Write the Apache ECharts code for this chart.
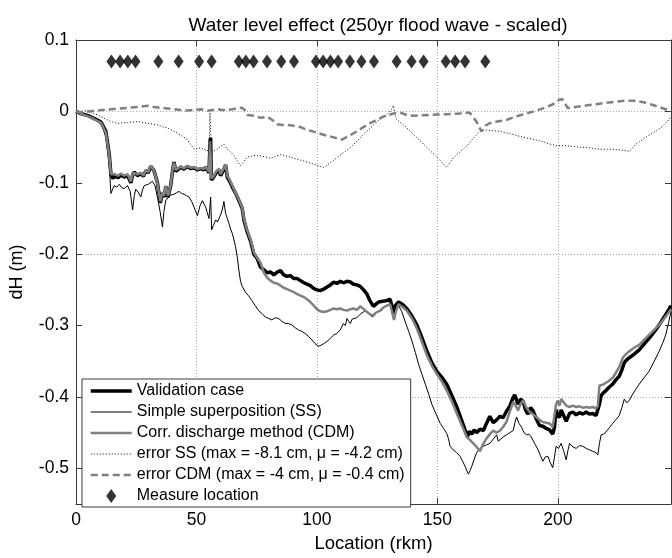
<!DOCTYPE html>
<html>
<head>
<meta charset="utf-8">
<script src="https://cdn.jsdelivr.net/npm/echarts@6.0.0/dist/echarts.min.js"></script>
<style>
  html, body { margin: 0; padding: 0; background: #fff; }
  #chart { width: 672px; height: 558px; }
</style>
</head>
<body>
<div id="chart"></div>
<script>
// River kilometre / water level difference (m) for each run
const validationKm = [0,2,5,7.6,10.4,12.4,13.8,14.5,15.3,16,17.5,18.6,20,21.4,22.8,23.6,24.2,25.5,26.9,28,29,30,31,32.4,33.8,35,35.9,36.6,37.3,38.2,39.3,40.2,40.7,41.4,42.1,43.5,44.8,46.2,47.5,49,50.4,51.8,53,53.8,55.2,55.7,55.9,56.2,57.3,58.2,59.4,60,61,62.1,62.8,63.8,64.9,66,67,68,69,69.7,71,72.5,73.8,75.2,76.6,78,79.4,80.8,82.1,83.5,84.9,86.2,87.6,89,90.4,91.8,93.2,94.6,95.9,97.3,98.7,100,101.4,102.8,104.2,105.6,107,108.3,109.7,111,112.5,113.9,115.2,116.6,118,119.4,120.8,122,123.5,124.5,125.6,127.3,129,130.4,131.3,131.8,132.5,133.9,135.5,137.3,139.5,141.5,143.5,145.6,147.7,149.8,151.8,153.9,156,158.1,159.8,161.5,162.5,163.3,164.3,165.3,166.3,167.7,169.1,170.4,171.8,173.2,174.6,176,177.3,178.7,180.1,181.3,182.1,183.5,184.5,185.6,186.6,187.6,188.7,189.7,191,192.4,193.8,195.2,196.6,197.9,198.6,199.3,200,200.7,201.4,202.1,203.5,204.9,206.3,207.6,209,210.4,211.8,213.1,214.5,215.9,216.6,217.3,218,219,220,221.4,222.8,224.1,225.5,226.6,227.6,228.6,229.7,231.7,233.8,235.8,237.9,240,242.1,243.8,245.5,247];
const validationDH = [0,-0.003,-0.006,-0.01,-0.015,-0.028,-0.06,-0.088,-0.094,-0.09,-0.093,-0.089,-0.092,-0.09,-0.1,-0.088,-0.085,-0.09,-0.087,-0.091,-0.083,-0.086,-0.077,-0.083,-0.1,-0.128,-0.114,-0.12,-0.105,-0.12,-0.104,-0.08,-0.071,-0.084,-0.082,-0.078,-0.081,-0.077,-0.08,-0.079,-0.082,-0.08,-0.082,-0.078,-0.086,-0.04,-0.037,-0.096,-0.091,-0.086,-0.082,-0.09,-0.084,-0.075,-0.092,-0.098,-0.106,-0.113,-0.12,-0.128,-0.136,-0.152,-0.168,-0.182,-0.2,-0.206,-0.218,-0.222,-0.226,-0.225,-0.229,-0.225,-0.223,-0.229,-0.231,-0.23,-0.234,-0.234,-0.237,-0.24,-0.242,-0.244,-0.248,-0.25,-0.251,-0.249,-0.246,-0.243,-0.239,-0.241,-0.238,-0.24,-0.238,-0.239,-0.242,-0.243,-0.245,-0.25,-0.256,-0.265,-0.273,-0.27,-0.267,-0.266,-0.265,-0.263,-0.275,-0.282,-0.272,-0.267,-0.27,-0.276,-0.287,-0.299,-0.316,-0.335,-0.352,-0.364,-0.372,-0.382,-0.398,-0.414,-0.43,-0.446,-0.455,-0.448,-0.452,-0.446,-0.45,-0.445,-0.447,-0.437,-0.427,-0.436,-0.432,-0.427,-0.429,-0.42,-0.413,-0.402,-0.397,-0.41,-0.403,-0.406,-0.418,-0.424,-0.415,-0.419,-0.43,-0.44,-0.441,-0.444,-0.446,-0.452,-0.443,-0.418,-0.425,-0.429,-0.418,-0.42,-0.434,-0.423,-0.421,-0.425,-0.422,-0.424,-0.421,-0.424,-0.423,-0.426,-0.428,-0.41,-0.398,-0.394,-0.391,-0.386,-0.382,-0.376,-0.371,-0.362,-0.352,-0.348,-0.345,-0.34,-0.334,-0.326,-0.318,-0.309,-0.299,-0.29,-0.281,-0.272];

const ssKm = [0,2,5,7.6,10.4,12.4,13.8,14.5,15.3,15.9,17,18,19,20,21.4,22.5,23.5,24.2,24.8,25.8,26.9,27.6,28.3,30,31.7,32.8,33.8,34.9,35.9,36.5,37.3,38.3,39.3,40.7,41.7,42.8,43.8,44.9,45.9,46.9,48,49,49.7,50.4,51.5,52.5,53.2,53.8,54.5,55.2,55.9,56.3,57,58,58.7,59.4,60,60.7,61.4,62.1,62.8,63.5,64.2,64.9,65.6,66.2,67,67.6,68.3,69,70.3,71.6,73,74.4,75.8,77.2,78.6,80,81.3,82.7,84.1,85.5,86.8,88.2,89.6,91,92.3,93.7,95.1,96.5,97.9,99.2,100.6,101.3,102,103,104.2,105.6,107,108.3,109.7,111,111.8,112.5,113.2,113.9,114.6,115.2,116.6,118,119.2,120.2,121.5,123,124,125.1,126.5,127.8,129.2,130.6,131.3,131.9,132.6,133.9,135.2,136.7,138.1,139.5,140.9,142.2,143.6,145,146.4,147.7,149.5,151.2,152.6,153.9,154.6,155.3,156.6,158,159.4,160.5,161.5,162.2,162.9,163.6,164.3,165.3,166.3,167.7,169.1,170.4,171.8,173.2,174.6,175.3,176,177.3,178.7,180.1,181.5,182.2,182.9,183.9,184.9,186,187,188,189,190.4,191.8,192.8,193.8,194.8,195.9,196.9,197.9,198.6,199.3,200.3,201.4,202.4,203.5,204.2,204.9,206.3,207.6,209,210.4,211.8,213.1,214.5,215.9,216.6,217.3,218,219,220,221.4,222.8,224.1,225.5,226.6,227.6,228.6,229.7,230.4,231.1,232.4,233.8,235.8,237.9,240,242.1,243.5,244.8,246,247];
const ssDH = [0,-0.003,-0.007,-0.011,-0.018,-0.035,-0.075,-0.115,-0.108,-0.104,-0.106,-0.102,-0.107,-0.108,-0.104,-0.112,-0.138,-0.118,-0.109,-0.113,-0.12,-0.11,-0.104,-0.102,-0.098,-0.104,-0.12,-0.14,-0.162,-0.14,-0.124,-0.121,-0.117,-0.116,-0.114,-0.112,-0.115,-0.116,-0.118,-0.12,-0.126,-0.134,-0.14,-0.146,-0.132,-0.125,-0.13,-0.134,-0.142,-0.15,-0.12,-0.166,-0.16,-0.152,-0.155,-0.15,-0.145,-0.138,-0.126,-0.143,-0.15,-0.157,-0.165,-0.171,-0.18,-0.189,-0.205,-0.222,-0.238,-0.245,-0.253,-0.258,-0.265,-0.272,-0.279,-0.283,-0.288,-0.29,-0.292,-0.289,-0.29,-0.294,-0.297,-0.297,-0.299,-0.303,-0.306,-0.308,-0.311,-0.315,-0.32,-0.325,-0.329,-0.331,-0.327,-0.325,-0.322,-0.318,-0.313,-0.311,-0.306,-0.297,-0.3,-0.29,-0.294,-0.297,-0.291,-0.29,-0.289,-0.284,-0.281,-0.279,-0.283,-0.288,-0.282,-0.281,-0.278,-0.274,-0.272,-0.27,-0.28,-0.288,-0.28,-0.272,-0.28,-0.295,-0.308,-0.322,-0.338,-0.354,-0.368,-0.382,-0.396,-0.41,-0.424,-0.437,-0.444,-0.451,-0.458,-0.469,-0.474,-0.478,-0.483,-0.49,-0.497,-0.503,-0.508,-0.503,-0.497,-0.487,-0.478,-0.472,-0.469,-0.467,-0.465,-0.459,-0.453,-0.462,-0.46,-0.456,-0.453,-0.45,-0.447,-0.436,-0.428,-0.437,-0.442,-0.45,-0.453,-0.452,-0.456,-0.465,-0.474,-0.482,-0.49,-0.484,-0.483,-0.492,-0.499,-0.485,-0.469,-0.472,-0.465,-0.475,-0.488,-0.475,-0.465,-0.47,-0.472,-0.468,-0.469,-0.472,-0.474,-0.476,-0.478,-0.481,-0.465,-0.453,-0.452,-0.449,-0.443,-0.437,-0.432,-0.426,-0.415,-0.403,-0.408,-0.405,-0.4,-0.396,-0.389,-0.382,-0.373,-0.364,-0.35,-0.336,-0.325,-0.313,-0.296,-0.281];

const cdmKm = [0,2,5,7.6,10.4,12.4,13.8,14.5,15.3,16,17.5,18.6,20,21.4,22.8,23.6,24.2,25.5,26.9,28,29,30,31,32.4,33.8,35,35.9,36.6,37.3,38.2,39.3,40.2,40.7,41.4,42.1,43.5,44.8,46.2,47.5,49,50.4,51.8,53,53.8,55.2,55.7,55.9,56.2,57.3,58.2,59.4,60,61,62.1,62.8,63.8,64.9,66,67,68,69,69.7,71,72.5,73.8,75.2,76.6,78,79.4,80.8,82.1,83.5,84.9,86.2,87.6,89,90.4,91.8,93.2,94.6,95.9,97.3,98.7,100,101.4,102.8,104.2,105.6,107,108.3,109.7,111,112.5,113.9,115.2,116.6,118,118.7,119.8,120.8,122,123.5,124.5,126.3,127.5,129,130.4,131.1,132,132.8,133.9,135.5,137.3,139.5,141.5,143.5,145.6,147.7,149.8,151.8,153.9,156,158.1,160.2,162.2,163.5,164.9,166.3,167.7,169,170.4,171.8,173.2,174.6,176,177.3,178.7,180.1,181.5,182.5,183.5,184.5,185.6,187,188.3,189.7,191.1,192.4,193.8,195.2,196.6,197.9,198.6,199.3,200,200.7,201.4,202.1,203.5,204.9,206.3,207.6,209,210.4,211.8,213.1,214.5,215.9,216.6,217.3,218.5,220,221.4,222.8,224.1,225.5,227,228.3,229.7,231.7,233.8,235.8,237.9,240,242.1,244.2,246.2,247];
const cdmDH = [0,-0.003,-0.007,-0.011,-0.016,-0.03,-0.062,-0.088,-0.09,-0.088,-0.09,-0.087,-0.09,-0.088,-0.098,-0.086,-0.084,-0.088,-0.086,-0.09,-0.082,-0.085,-0.076,-0.083,-0.101,-0.126,-0.113,-0.118,-0.104,-0.118,-0.103,-0.079,-0.072,-0.082,-0.08,-0.077,-0.08,-0.076,-0.079,-0.078,-0.081,-0.079,-0.081,-0.077,-0.085,-0.042,-0.04,-0.094,-0.09,-0.084,-0.08,-0.088,-0.082,-0.074,-0.09,-0.096,-0.104,-0.112,-0.119,-0.127,-0.135,-0.15,-0.166,-0.18,-0.197,-0.205,-0.212,-0.226,-0.233,-0.237,-0.24,-0.241,-0.244,-0.247,-0.249,-0.251,-0.253,-0.256,-0.258,-0.26,-0.263,-0.267,-0.272,-0.277,-0.28,-0.281,-0.28,-0.278,-0.276,-0.277,-0.276,-0.278,-0.279,-0.277,-0.276,-0.278,-0.273,-0.272,-0.278,-0.281,-0.284,-0.286,-0.282,-0.279,-0.275,-0.272,-0.27,-0.27,-0.292,-0.28,-0.27,-0.274,-0.279,-0.29,-0.304,-0.322,-0.341,-0.356,-0.368,-0.378,-0.391,-0.406,-0.423,-0.44,-0.456,-0.46,-0.465,-0.47,-0.476,-0.466,-0.458,-0.452,-0.447,-0.45,-0.447,-0.442,-0.435,-0.42,-0.407,-0.412,-0.419,-0.41,-0.405,-0.415,-0.421,-0.424,-0.428,-0.432,-0.435,-0.436,-0.437,-0.442,-0.44,-0.41,-0.405,-0.412,-0.403,-0.405,-0.412,-0.414,-0.412,-0.414,-0.413,-0.415,-0.414,-0.415,-0.414,-0.416,-0.413,-0.384,-0.383,-0.38,-0.377,-0.373,-0.366,-0.358,-0.345,-0.34,-0.336,-0.331,-0.327,-0.32,-0.313,-0.306,-0.299,-0.29,-0.281,-0.277];

const errSsKm = [0,2.1,4,6.2,7.5,9,11.7,14.5,17.3,21.4,25.5,29.7,33.8,38,42.1,46.2,49,51.8,54.5,55.3,55.6,55.9,56.2,58.7,60,61.4,62.8,64.2,65.6,67,68.3,69.7,71.1,73.8,76.6,80.7,84.9,88,91.8,95,98.7,102.8,105.5,108.3,111,113.8,116.5,119.3,122,124.8,127,129,130.8,131.8,132.3,133.1,135.3,137.3,140,142.8,145.5,148.3,151,153.8,155.2,156.6,159.3,162.1,164.8,167.6,170.4,173,175.9,180,184.2,188.3,192.4,196,199.3,203.5,206,209,213,217.3,220,222.8,226,229.7,232.4,235,238,241,243.5,245.5,247];
const errSsDH = [0,-0.001,0.001,-0.001,-0.003,-0.005,-0.0097,-0.0143,-0.0166,-0.0156,-0.0143,-0.0166,-0.019,-0.0235,-0.0303,-0.0395,-0.053,-0.051,-0.0555,-0.05,-0.002,-0.003,-0.057,-0.053,-0.049,-0.046,-0.053,-0.057,-0.062,-0.07,-0.076,-0.07,-0.064,-0.062,-0.062,-0.0657,-0.0605,-0.063,-0.067,-0.07,-0.074,-0.0786,-0.072,-0.0648,-0.058,-0.051,-0.042,-0.0326,-0.024,-0.0147,-0.009,-0.0055,0.002,0.0083,-0.002,-0.0115,-0.017,-0.023,-0.032,-0.041,-0.05,-0.059,-0.068,-0.0786,-0.072,-0.065,-0.057,-0.049,-0.038,-0.028,-0.026,-0.027,-0.028,-0.031,-0.035,-0.038,-0.041,-0.045,-0.048,-0.048,-0.049,-0.05,-0.051,-0.053,-0.053,-0.053,-0.054,-0.056,-0.046,-0.04,-0.033,-0.027,-0.021,-0.014,-0.007];

const errCdmKm = [0,2.1,5,7.6,11,14.5,18,21.4,25.5,29.7,32.5,35.2,38,40.7,43.5,46.2,49,51.8,54.5,56.6,58.7,60.7,62.8,65,67,69,70,71.1,73.8,76.6,79.4,81.5,83.5,85.5,87.6,90.4,93.2,95.9,99.3,102.8,106.6,110.4,113.5,116.6,119.3,122.1,124.8,127.6,129.7,131.8,134.5,137.3,140,143.4,146.9,150.3,153.8,156.6,159.3,163.4,164.8,166.2,168.3,170,171.7,175,178.6,182.7,186.9,191,195.2,198,200.7,202,202.8,204.1,208,211.7,216,220,224,228.3,232.4,236.6,239.5,242.1,244.8,247];
const errCdmDH = [0,-0.001,0,0.001,0.002,0.003,0.004,0.005,0.006,0.0078,0.006,0.005,0.004,0.003,0.002,0.0014,0.002,0.003,0.001,0.002,0.003,0.002,0.002,0.003,0.0046,0.005,0.002,-0.0051,-0.006,-0.009,-0.0074,-0.012,-0.018,-0.019,-0.019,-0.02,-0.022,-0.0258,-0.029,-0.0327,-0.036,-0.0395,-0.034,-0.028,-0.022,-0.0166,-0.012,-0.0074,-0.005,-0.003,-0.0016,-0.005,-0.006,-0.0055,-0.005,-0.0045,-0.004,-0.0035,-0.003,-0.0016,-0.008,-0.014,-0.028,-0.02,-0.0166,-0.014,-0.012,-0.007,-0.003,0.001,0.006,0.01,0.0166,0.017,0.015,0.0046,0.0065,0.0083,0.01,0.012,0.0135,0.015,0.015,0.012,0.009,0.006,0.003,0];

const measureKm = [14.7,18.3,21.5,24.7,34.2,42.6,51.1,56.3,67.6,70.5,73.7,79.3,85.2,90.5,99.6,102.6,105.6,108.8,113.7,118.5,123.7,133.1,139.3,144.3,153.5,157.4,161.5,169.9];
const measureDH = measureKm.map(() => 0.07);

const xTicks = [0, 50, 100, 150, 200];
const yTicks = [-0.5, -0.4, -0.3, -0.2, -0.1, 0, 0.1];

const seriesNames = [
  'Validation case',
  'Simple superposition (SS)',
  'Corr. discharge method (CDM)',
  'error SS (max = -8.1 cm, \u03bc = -4.2 cm)',
  'error CDM (max = -4 cm, \u03bc = -0.4 cm)',
  'Measure location'
];

const zip = (xs, ys) => xs.map((x, i) => [x, ys[i]]);
const FONT = '"Liberation Sans", Arial, Helvetica, sans-serif';
const FRAME = '#3a3a3a';
const GRID = '#a8a8a8';
const TICK_FONT = 17.5;

const isMultiple = (v, step) => Math.abs(v / step - Math.round(v / step)) < 1e-6;

const baseX = {
  type: 'value', min: 0, max: 247, interval: 50,
  axisLine: { show: true, onZero: false, lineStyle: { color: FRAME, width: 1 } },
  axisTick: { show: true, inside: true, length: 6, customValues: xTicks, lineStyle: { color: FRAME } }
};
const baseY = {
  type: 'value', min: -0.55, max: 0.1, interval: 0.05,
  axisLine: { show: true, onZero: false, lineStyle: { color: FRAME, width: 1 } },
  axisTick: { show: true, inside: true, length: 6, customValues: yTicks, lineStyle: { color: FRAME } }
};

const chart = echarts.init(document.getElementById('chart'), null, { renderer: 'canvas' });

const lineSeries = (name, km, dh, style, z) => ({
  name, type: 'line', data: zip(km, dh), symbol: 'none', showSymbol: false,
  lineStyle: style, itemStyle: { color: style.color }, z, silent: true, animation: false
});

// legend entry for a plain line: hide the marker the line legend icon carries
const lineLegend = (name, width) => ({ name, lineStyle: { width }, itemStyle: { opacity: 0 } });

chart.setOption({
  animation: false,
  backgroundColor: '#ffffff',
  textStyle: { fontFamily: FONT },
  title: {
    text: 'Water level effect (250yr flood wave - scaled)',
    left: 373, top: 11, textAlign: 'center',
    textStyle: { fontFamily: FONT, fontSize: 19, fontWeight: 'normal', color: '#000' }
  },
  grid: { left: 75, right: 1, top: 40, bottom: 46, containLabel: false },
  xAxis: [
    Object.assign({}, baseX, {
      position: 'bottom',
      name: 'Location (rkm)', nameLocation: 'middle', nameGap: 29,
      nameTextStyle: { fontFamily: FONT, fontSize: 18.5, color: '#000' },
      axisLabel: {
        show: true, margin: 7, color: '#000', fontSize: TICK_FONT, fontFamily: FONT,
        customValues: xTicks,
        formatter: v => (isMultiple(v, 50) ? String(v) : '')
      },
      splitLine: { show: true, lineStyle: { color: GRID, type: [1, 2], width: 1 } }
    }),
    Object.assign({}, baseX, {
      position: 'top', axisLabel: { show: false }, splitLine: { show: false }
    })
  ],
  yAxis: [
    Object.assign({}, baseY, {
      position: 'left',
      name: 'dH (m)', nameLocation: 'middle', nameGap: 50,
      nameTextStyle: { fontFamily: FONT, fontSize: 18, color: '#000' },
      axisLabel: {
        show: true, margin: 7, color: '#000', fontSize: TICK_FONT, fontFamily: FONT,
        customValues: yTicks,
        formatter: v => (isMultiple(v, 0.1) ? String(+v.toFixed(1)) : '')
      },
      // grid lines only on the 0.1 m steps
      splitLine: { show: true, lineStyle: { color: ['rgba(0,0,0,0)', GRID], type: [1, 2], width: 1 } }
    }),
    Object.assign({}, baseY, {
      position: 'right', axisLabel: { show: false }, splitLine: { show: false }
    })
  ],
  legend: {
    show: true, orient: 'vertical', left: 82, top: 379,
    padding: [4, 6, 3, 7], itemGap: 5, itemWidth: 41, itemHeight: 14,
    backgroundColor: '#ffffff', borderColor: FRAME, borderWidth: 1, borderRadius: 0,
    selectedMode: false,
    textStyle: { fontFamily: FONT, fontSize: 16, color: '#000', lineHeight: 16 },
    data: [
      lineLegend(seriesNames[0], 3.5),
      lineLegend(seriesNames[1], 1),
      lineLegend(seriesNames[2], 2.5),
      lineLegend(seriesNames[3], 1),
      lineLegend(seriesNames[4], 2.5),
      { name: seriesNames[5], icon: 'path://M5,0L10,7L5,14L0,7Z', itemStyle: { color: '#000' } }
    ]
  },
  series: [
    lineSeries(seriesNames[0], validationKm, validationDH, { color: '#000000', width: 3.5 }, 2),
    lineSeries(seriesNames[1], ssKm, ssDH, { color: '#000000', width: 1 }, 3),
    lineSeries(seriesNames[2], cdmKm, cdmDH, { color: '#808080', width: 2.5 }, 4),
    lineSeries(seriesNames[3], errSsKm, errSsDH, { color: '#000000', width: 1, type: [1, 2] }, 5),
    lineSeries(seriesNames[4], errCdmKm, errCdmDH, { color: '#808080', width: 2.5, type: [7, 4] }, 6),
    {
      name: seriesNames[5], type: 'scatter', data: zip(measureKm, measureDH),
      symbol: 'diamond', symbolSize: [10, 14], itemStyle: { color: '#000' },
      z: 7, silent: true, animation: false
    }
  ]
});
</script>
</body>
</html>
